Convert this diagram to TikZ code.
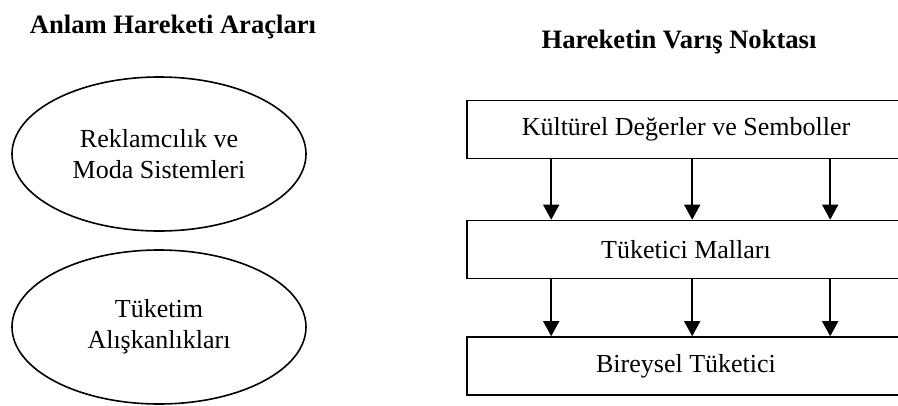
\documentclass[tikz,border=0pt]{standalone}
\usepackage{fontspec}
\setmainfont{Liberation Serif}
\usepackage{tikz}
\usetikzlibrary{arrows.meta,positioning,calc,shapes.geometric}
\tikzset{
  oval/.style={draw, ellipse, line width=1.6pt, minimum width=294pt,
    minimum height=154pt, inner sep=0pt, align=center,
    font=\fontsize{26}{31}\selectfont},
  stage/.style={draw, rectangle, line width=1.6pt, minimum width=438pt,
    minimum height=58pt, inner sep=0pt, font=\fontsize{26}{31}\selectfont},
  head/.style={font=\fontsize{26.6}{31}\selectfont\bfseries},
  arr/.style={-{Triangle[length=15pt, width=16pt]}, line width=1.6pt},
}

\begin{document}
\begin{tikzpicture}[x=1pt, y=-1pt]
        \useasboundingbox (0,0) rectangle (898,405);
        \node[head] (araclar) at (173,27) {Anlam Hareketi Araçları};
        \node[head] (varis) at (679,42) {Hareketin Varış Noktası};
        % araclar
        \node[oval] (reklam) at (159,154) {Reklamcılık ve\\Moda Sistemleri};
        \node[oval] (aliskanlik) at (159,327) {Tüketim\\Alışkanlıkları};
        % varis noktasi
        \node[stage] (kultur) at (686,129.5) {Kültürel Değerler ve Semboller};
        \node[stage] (mallar) at (686,249.5) {Tüketici Malları};
        \node[stage] (birey) at (686,366) {Bireysel Tüketici};
        \foreach \d in {85,226,364} {
          \draw[arr] ($(kultur.south west)+(\d,0)$) -- ($(mallar.north west)+(\d,0)$);
          \draw[arr] ($(mallar.south west)+(\d,0)$) -- ($(birey.north west)+(\d,0)$);
        }
      \end{tikzpicture}
\end{document}
